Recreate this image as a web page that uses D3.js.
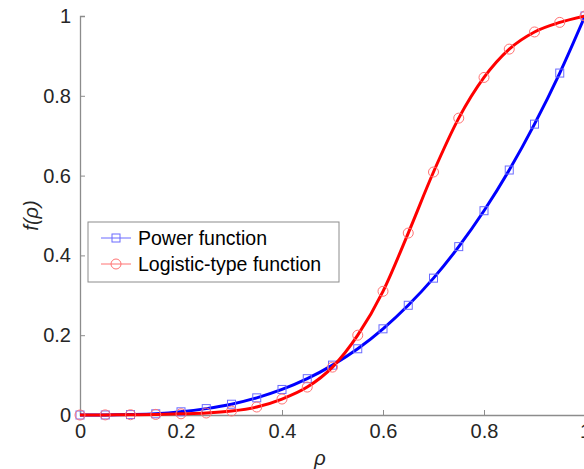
<!DOCTYPE html>
<html>
<head>
<meta charset="utf-8">
<script src="https://cdn.jsdelivr.net/npm/d3@7"></script>
<style>
  body { margin: 0; background: #fff; }
  svg { font-family: "Liberation Sans", Arial, sans-serif; }
</style>
</head>
<body>
<svg width="584" height="469"></svg>
<script>
// data, markers every 0.05
var rho = [0, 0.05, 0.1, 0.15, 0.2, 0.25, 0.3, 0.35, 0.4, 0.45, 0.5,
           0.55, 0.6, 0.65, 0.7, 0.75, 0.8, 0.85, 0.9, 0.95, 1];
var powerVals = [0, 0.0001, 0.001, 0.003, 0.008, 0.016, 0.027, 0.043, 0.064, 0.091, 0.125,
                 0.166, 0.216, 0.275, 0.343, 0.422, 0.512, 0.614, 0.729, 0.857, 1];
var logisticVals = [0, 0.0003, 0.0007, 0.0015, 0.003, 0.005, 0.01, 0.02, 0.04, 0.07, 0.12,
                    0.2, 0.31, 0.456, 0.609, 0.744, 0.846, 0.917, 0.96, 0.984, 1];
var tickVals = [0, 0.2, 0.4, 0.6, 0.8, 1];
var seriesNames = ["Power function", "Logistic-type function"];

var margin = { left: 80, top: 16, bottom: 54 },
    width = 505,
    height = 469 - margin.top - margin.bottom;

var svg = d3.select("svg");
var g = svg.append("g")
    .attr("transform", "translate(" + margin.left + "," + margin.top + ")");

var x = d3.scaleLinear().domain([0, 1]).range([0, width]);
var y = d3.scaleLinear().domain([0, 1]).range([height, 0]);

var axisColor = "#8c8c8c", textColor = "#262626";

// axes (box off, ticks pointing inward)
var xAxis = g.append("g")
    .attr("transform", "translate(0," + height + ")")
    .call(d3.axisBottom(x).tickValues(tickVals).tickSize(-5).tickPadding(9)
        .tickFormat(d3.format("~g")));
var yAxis = g.append("g")
    .call(d3.axisLeft(y).tickValues(tickVals).tickSize(-5).tickPadding(9)
        .tickFormat(d3.format("~g")));

[xAxis, yAxis].forEach(function (a) {
    a.select(".domain").attr("stroke", axisColor).attr("stroke-width", 1.3);
    a.selectAll(".tick line").attr("stroke", axisColor);
    a.selectAll(".tick text").attr("fill", textColor).style("font-size", "20px");
});

// axis labels
g.append("text")
    .attr("x", x(0.475)).attr("y", height + 50)
    .attr("text-anchor", "middle")
    .attr("fill", textColor)
    .style("font-size", "20px").style("font-style", "italic")
    .text("ρ");
g.append("text")
    .attr("transform", "translate(-42," + y(0.5) + ") rotate(-90)")
    .attr("text-anchor", "middle")
    .attr("fill", textColor)
    .style("font-size", "20px").style("font-style", "italic")
    .text("f(ρ)");

var series = [
    { name: seriesNames[0], vals: powerVals, color: "#0000ff", mark: "#6b6bff", shape: "square" },
    { name: seriesNames[1], vals: logisticVals, color: "#ff0000", mark: "#ff7373", shape: "circle" }
];

var line = d3.line()
    .x(function (d) { return x(d[0]); })
    .y(function (d) { return y(d[1]); })
    .curve(d3.curveMonotoneX);

function drawMarker(sel, s, cx, cy) {
    if (s.shape === "square") {
        sel.append("rect")
            .attr("x", cx - 4).attr("y", cy - 4)
            .attr("width", 8).attr("height", 8)
            .attr("fill", "none").attr("stroke", s.mark).attr("stroke-width", 1);
    } else {
        sel.append("circle")
            .attr("cx", cx).attr("cy", cy).attr("r", 5)
            .attr("fill", "none").attr("stroke", s.mark).attr("stroke-width", 1);
    }
}

series.forEach(function (s) {
    var pts = rho.map(function (r, i) { return [r, s.vals[i]]; });
    g.append("path")
        .datum(pts)
        .attr("d", line)
        .attr("fill", "none")
        .attr("stroke", s.color)
        .attr("stroke-width", 3);
    var mg = g.append("g");
    pts.forEach(function (p) { drawMarker(mg, s, x(p[0]), y(p[1])); });
});

// legend
var leg = svg.append("g").attr("transform", "translate(88,222)");
leg.append("rect")
    .attr("width", 251).attr("height", 60)
    .attr("fill", "#fff").attr("stroke", "#8c8c8c").attr("stroke-width", 1);
series.forEach(function (s, i) {
    var ly = 16 + i * 26;
    leg.append("line")
        .attr("x1", 13).attr("x2", 43).attr("y1", ly).attr("y2", ly)
        .attr("stroke", s.mark).attr("stroke-width", 1);
    drawMarker(leg, s, 28, ly);
    leg.append("text")
        .attr("x", 50).attr("y", ly + 7)
        .attr("fill", "#000")
        .style("font-size", "19.5px")
        .text(s.name);
});
</script>
</body>
</html>
